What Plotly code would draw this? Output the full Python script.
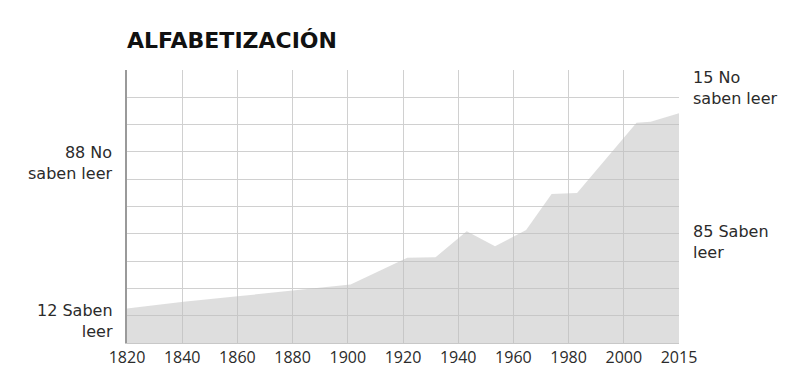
import numpy as np
import plotly.graph_objects as go

# Data (share of people who can read, %)
years = [1820, 1840, 1860, 1880, 1899, 1919, 1929, 1940, 1950, 1961, 1970, 1979, 2000, 2005, 2015]
saben_leer = [12.6, 15.1, 17.2, 19.3, 21.4, 31.2, 31.4, 40.9, 35.4, 41.4, 54.6, 54.9, 80.7, 81.0, 84.2]

tick_labels = ["1820", "1840", "1860", "1880", "1900", "1920", "1940", "1960", "1980", "2000", "2015"]

LABEL_FONT = "DejaVu Sans"
TICK_FONT = "Open Sans"
TXT = "#2b2b2b"

fig = go.Figure()
fig.add_trace(go.Scatter(
    x=years, y=saben_leer, mode="lines", line=dict(width=0),
    fill="tozeroy", fillcolor="rgba(190,190,190,0.5)", hoverinfo="skip",
))

tick_pos = list(np.linspace(years[0], years[-1], len(tick_labels)))

# page body has an 8px default margin, so offsets are compensated
fig.update_layout(
    width=800, height=385,
    margin=dict(l=119, r=129, t=62, b=50),
    plot_bgcolor="white", paper_bgcolor="white",
    showlegend=False,
    title=dict(text="<b>ALFABETIZACIÓN</b>", x=119/800, xanchor="left",
               y=1-32/385, yanchor="middle",
               font=dict(family=LABEL_FONT, size=22, color="#111111")),
    xaxis=dict(range=[years[0], years[-1]], tickvals=tick_pos, ticktext=tick_labels,
               showgrid=True, gridcolor="#d0d0d0", gridwidth=1,
               showline=True, linecolor="#c8c8c8", linewidth=1,
               ticks="", tickfont=dict(family=TICK_FONT, size=16, color=TXT),
               zeroline=False, fixedrange=True),
    yaxis=dict(range=[0, 100], dtick=10, showticklabels=False,
               showgrid=True, gridcolor="#d0d0d0", gridwidth=1,
               showline=True, linecolor="#9a9a9a", linewidth=1.5,
               zeroline=False, ticks="", fixedrange=True),
)

ann_font = dict(family=LABEL_FONT, size=16, color=TXT)
fig.add_annotation(text="88 No<br>saben leer", xref="paper", x=0, xanchor="right", xshift=-12,
                   yref="y", y=66, yanchor="middle", showarrow=False, align="right", font=ann_font)
fig.add_annotation(text="12 Saben<br>leer", xref="paper", x=0, xanchor="right", xshift=-12,
                   yref="y", y=8, yanchor="middle", showarrow=False, align="right", font=ann_font)
fig.add_annotation(text="15 No<br>saben leer", xref="paper", x=1, xanchor="left", xshift=12,
                   yref="y", y=93.5, yanchor="middle", showarrow=False, align="left", font=ann_font)
fig.add_annotation(text="85 Saben<br>leer", xref="paper", x=1, xanchor="left", xshift=12,
                   yref="y", y=37, yanchor="middle", showarrow=False, align="left", font=ann_font)

fig.write_html("out.html")
